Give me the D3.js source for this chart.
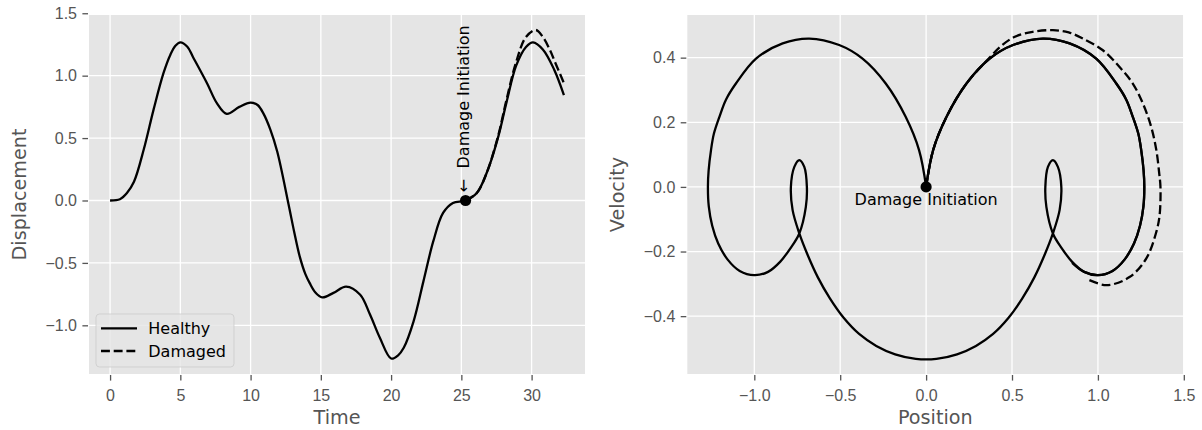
<!DOCTYPE html>
<html lang="en">
<head>
<meta charset="UTF-8">
<title>Healthy vs damaged response</title>
<script src="https://d3js.org/d3.v7.min.js"></script>
<style>
  body { margin: 0; background: #fff; }
  svg { display: block; font-family: "DejaVu Sans", sans-serif; }
  .tick text { fill: #555; font-size: 16px; }
  .tick line { stroke: #555; stroke-width: 1.3; }
  .alabel { fill: #555; font-size: 19.2px; }
</style>
</head>
<body>
<div id="chart"></div>
<script>
// time response
var timeHealthy = [0, 0.7, 1.2, 1.7, 2.4, 3.1, 3.8, 4.3, 4.65, 5.0, 5.5, 5.9, 6.9, 7.6, 8.3, 9.2, 10.0, 10.5, 10.9, 11.4, 11.9,
  12.7, 13.1, 13.5, 13.9, 14.2, 14.6, 15.1, 15.9, 16.8, 17.8, 18.5, 19.2, 20.0, 20.5, 20.9, 21.6, 22.3, 23.0, 23.7, 24.4,
  25.3, 26.1, 26.8, 27.6, 28.2, 28.9, 29.6, 30.1, 30.8, 31.6, 32.3];
var dispHealthy = [0, 0.01, 0.06, 0.15, 0.41, 0.73, 1.02, 1.17, 1.24, 1.267, 1.232, 1.15, 0.94, 0.78, 0.694, 0.75, 0.784, 0.765, 0.70, 0.57, 0.39,
  -0.03, -0.25, -0.45, -0.59, -0.66, -0.735, -0.776, -0.74, -0.69, -0.755, -0.914, -1.10, -1.266, -1.24, -1.18, -0.968, -0.648, -0.328, -0.10, -0.02,
  0, 0.06, 0.22, 0.50, 0.78, 1.08, 1.23, 1.267, 1.21, 1.05, 0.845];
var timeDamaged = [25.3, 26.1, 26.8, 27.6, 28.2, 28.9, 29.6, 30.3, 30.8, 31.3, 31.7, 32.3];
var dispDamaged = [0, 0.06, 0.22, 0.51, 0.80, 1.11, 1.31, 1.366, 1.31, 1.206, 1.10, 0.94];

// phase portrait, healthy split at the damage point
var posHealthy1 = [0, 0.041, 0.119, 0.235, 0.37, 0.506, 0.68, 0.835, 0.99, 1.107, 1.165, 1.203, 1.235, 1.252, 1.266, 1.27,
  1.265, 1.245, 1.21, 1.155, 1.085, 1.0, 0.92, 0.85, 0.79, 0.738,
  0.70, 0.694, 0.709, 0.738, 0.767, 0.787, 0.777, 0.738,
  0.69, 0.63, 0.56, 0.48, 0.39, 0.29, 0.18, 0.06, -0.06, -0.18, -0.29, -0.39, -0.48, -0.56, -0.63, -0.69, -0.738,
  -0.777, -0.787, -0.767, -0.738, -0.709, -0.694, -0.70, -0.738,
  -0.79, -0.85, -0.92, -1.0, -1.085, -1.155, -1.21, -1.245, -1.265, -1.27,
  -1.266, -1.252, -1.235, -1.203, -1.165, -1.107, -0.99, -0.835, -0.68, -0.506, -0.37, -0.235, -0.119, -0.041, 0];
var velHealthy1 = [0, 0.114, 0.217, 0.32, 0.397, 0.439, 0.459, 0.444, 0.397, 0.32, 0.27, 0.217, 0.165, 0.114, 0.05, 0,
  -0.06, -0.12, -0.175, -0.225, -0.26, -0.273, -0.263, -0.232, -0.19, -0.144,
  -0.062, 0, 0.062, 0.083, 0.062, 0, -0.072, -0.144,
  -0.21, -0.28, -0.345, -0.405, -0.455, -0.492, -0.518, -0.532, -0.532, -0.518, -0.492, -0.455, -0.405, -0.345, -0.28, -0.21, -0.144,
  -0.072, 0, 0.062, 0.083, 0.062, 0, -0.062, -0.144,
  -0.19, -0.232, -0.263, -0.273, -0.26, -0.225, -0.175, -0.12, -0.06, 0,
  0.05, 0.114, 0.165, 0.217, 0.27, 0.32, 0.397, 0.444, 0.459, 0.439, 0.397, 0.32, 0.217, 0.114, 0];
var posHealthy2 = [0, 0.041, 0.119, 0.235, 0.37, 0.506, 0.68, 0.835, 0.99, 1.107, 1.165, 1.203, 1.235, 1.252, 1.266, 1.27,
  1.265, 1.245, 1.21, 1.155, 1.085, 1.0, 0.92, 0.85];
var velHealthy2 = [0, 0.114, 0.217, 0.32, 0.397, 0.439, 0.459, 0.444, 0.397, 0.32, 0.27, 0.217, 0.165, 0.114, 0.05, 0,
  -0.06, -0.12, -0.175, -0.225, -0.26, -0.273, -0.263, -0.235];
var posDamaged = [0, 0.041, 0.119, 0.235, 0.37, 0.43, 0.51, 0.62, 0.738, 0.83, 0.913, 1.029, 1.126, 1.203, 1.262,
  1.31, 1.34, 1.357, 1.364, 1.359, 1.34, 1.281, 1.184, 1.049, 0.932];
var velDamaged = [0, 0.114, 0.217, 0.32, 0.40, 0.433, 0.463, 0.48, 0.485, 0.478, 0.459, 0.423, 0.371, 0.32, 0.258,
  0.186, 0.114, 0.041, 0, -0.088, -0.139, -0.222, -0.279, -0.304, -0.284];

var damageTime = 25.3, damagePos = 0, damageVel = 0;

var timeTicks = [0, 5, 10, 15, 20, 25, 30];
var dispTicks = [-1.0, -0.5, 0.0, 0.5, 1.0, 1.5];
var posTicks = [-1.0, -0.5, 0.0, 0.5, 1.0, 1.5];
var velTicks = [-0.4, -0.2, 0.0, 0.2, 0.4];

var W = 1202, H = 430;
var svg = d3.select("#chart").append("svg").attr("width", W).attr("height", H);

var fmt1 = function(d) { return d3.format(".1f")(d).replace("-", "\u2212"); };
var fmt0 = function(d) { return d3.format("d")(d); };

function panel(box, xs, ys, xt, yt, xf, yf, xl, yl, ylx) {
  var g = svg.append("g");
  g.append("rect").attr("x", box.x0).attr("y", box.y0)
    .attr("width", box.x1 - box.x0).attr("height", box.y1 - box.y0).attr("fill", "#E5E5E5");
  g.selectAll(".vg").data(xt).enter().append("line")
    .attr("x1", xs).attr("x2", xs).attr("y1", box.y0).attr("y2", box.y1)
    .attr("stroke", "#fff").attr("stroke-width", 1.3);
  g.selectAll(".hg").data(yt).enter().append("line")
    .attr("y1", ys).attr("y2", ys).attr("x1", box.x0).attr("x2", box.x1)
    .attr("stroke", "#fff").attr("stroke-width", 1.3);

  var ax = svg.append("g").attr("transform", "translate(0," + (box.y1 + 1) + ")")
    .call(d3.axisBottom(xs).tickValues(xt).tickFormat(xf).tickSize(5.6).tickPadding(9));
  ax.select(".domain").remove();
  var ay = svg.append("g").attr("transform", "translate(" + (box.x0 - 1) + ",0)")
    .call(d3.axisLeft(ys).tickValues(yt).tickFormat(yf).tickSize(5.6).tickPadding(5.4));
  ay.select(".domain").remove();
  svg.selectAll(".tick text").attr("font-family", null);

  svg.append("text").attr("class", "alabel").attr("text-anchor", "middle")
    .attr("x", (box.x0 + box.x1) / 2).attr("y", 424).text(xl);
  svg.append("text").attr("class", "alabel").attr("text-anchor", "middle")
    .attr("transform", "translate(" + ylx + "," + ((box.y0 + box.y1) / 2) + ") rotate(-90)").text(yl);
  return g;
}

// ---- left: displacement vs time
var L = { x0: 89, x1: 585, y0: 15, y1: 374 };
var xT = d3.scaleLinear().domain([-1.5, 33.8]).range([L.x0, L.x1]);
var yD = d3.scaleLinear().domain([-1.39, 1.486]).range([L.y1, L.y0]);
var gl = panel(L, xT, yD, timeTicks, dispTicks, fmt0, fmt1, "Time", "Displacement", 26);

var lineT = d3.line().x(function(d) { return xT(d[0]); }).y(function(d) { return yD(d[1]); })
  .curve(d3.curveCatmullRom.alpha(0.5));
gl.append("path").attr("d", lineT(d3.zip(timeHealthy, dispHealthy)))
  .attr("fill", "none").attr("stroke", "#000").attr("stroke-width", 2.3);
gl.append("path").attr("d", lineT(d3.zip(timeDamaged, dispDamaged)))
  .attr("fill", "none").attr("stroke", "#000").attr("stroke-width", 2.3).attr("stroke-dasharray", "8.9,3.8");
gl.append("circle").attr("cx", xT(damageTime)).attr("cy", yD(0)).attr("r", 5.6).attr("fill", "#000");
gl.append("text").attr("font-size", 16).attr("fill", "#000")
  .attr("transform", "translate(" + (xT(damageTime) - 2) + "," + (yD(0) - 8) + ") rotate(-90)")
  .attr("dy", "0.36em").text("\u2190");
gl.append("text").attr("font-size", 16).attr("fill", "#000")
  .attr("transform", "translate(" + (xT(damageTime) - 2) + "," + (yD(0) - 32) + ") rotate(-90)")
  .attr("dy", "0.36em").text("Damage Initiation");

// legend
var lg = gl.append("g");
lg.append("rect").attr("x", 96).attr("y", 314).attr("width", 138).attr("height", 53).attr("rx", 3.5)
  .attr("fill", "#E5E5E5").attr("fill-opacity", 0.8).attr("stroke", "#CCCCCC").attr("stroke-opacity", 0.8);
[["Healthy", null, 328.3], ["Damaged", "8.9,3.8", 351]].forEach(function(it) {
  lg.append("line").attr("x1", 101).attr("x2", 137).attr("y1", it[2]).attr("y2", it[2])
    .attr("stroke", "#000").attr("stroke-width", 2.3).attr("stroke-dasharray", it[1]);
  lg.append("text").attr("x", 148.3).attr("y", it[2]).attr("dy", "0.36em")
    .attr("font-size", 16).attr("fill", "#000").text(it[0]);
});

// ---- right: phase portrait
var R = { x0: 687.3, x1: 1183.3, y0: 15, y1: 374 };
var xP = d3.scaleLinear().domain([-1.39, 1.497]).range([R.x0, R.x1]);
var yV = d3.scaleLinear().domain([-0.579, 0.532]).range([R.y1, R.y0]);
var gr = panel(R, xP, yV, posTicks, velTicks, fmt1, fmt1, "Position", "Velocity", 624);

var lineP = d3.line().x(function(d) { return xP(d[0]); }).y(function(d) { return yV(d[1]); })
  .curve(d3.curveCatmullRom.alpha(0.5));
[d3.zip(posHealthy1, velHealthy1), d3.zip(posHealthy2, velHealthy2)].forEach(function(seg) {
  gr.append("path").attr("d", lineP(seg))
    .attr("fill", "none").attr("stroke", "#000").attr("stroke-width", 2.3);
});
gr.append("path").attr("d", lineP(d3.zip(posDamaged, velDamaged)))
  .attr("fill", "none").attr("stroke", "#000").attr("stroke-width", 2.3).attr("stroke-dasharray", "8.9,3.8");
gr.append("circle").attr("cx", xP(damagePos)).attr("cy", yV(damageVel)).attr("r", 5.6).attr("fill", "#000");
gr.append("text").attr("font-size", 16).attr("fill", "#000").attr("text-anchor", "middle")
  .attr("x", xP(damagePos)).attr("y", yV(damageVel) + 18.5).text("Damage Initiation");
</script>
</body>
</html>
